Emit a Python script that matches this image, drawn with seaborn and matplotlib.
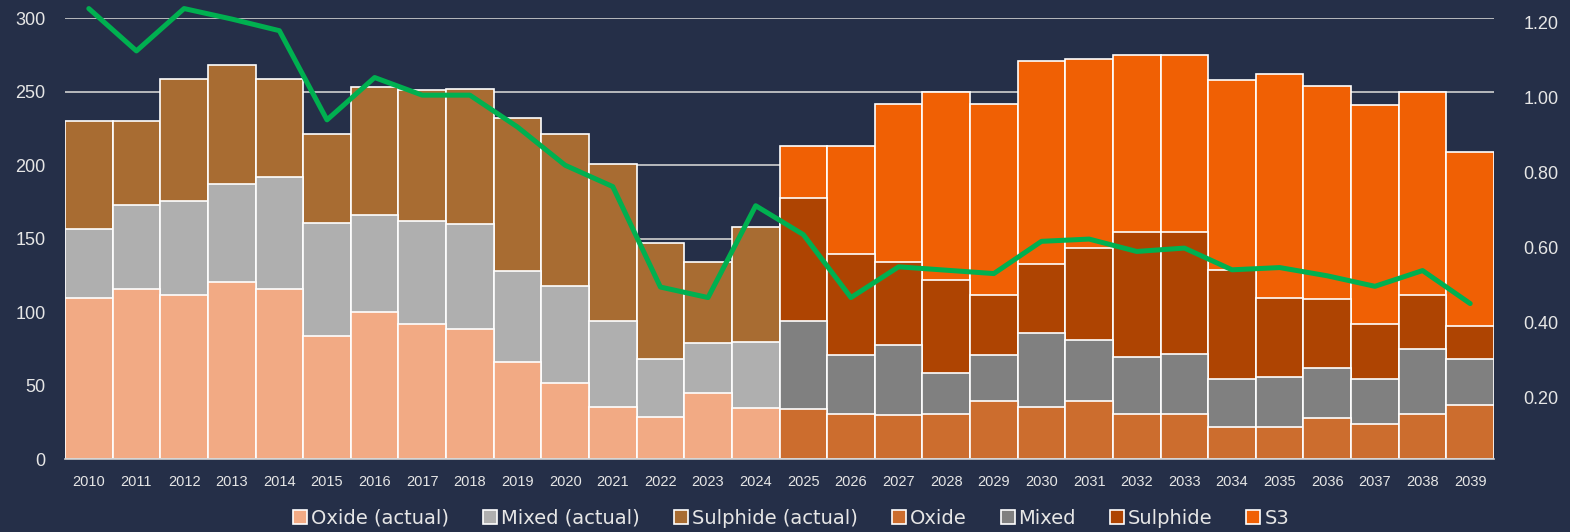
import matplotlib
matplotlib.use("Agg")
import matplotlib.pyplot as plt
from matplotlib.patches import Patch
from matplotlib.ticker import FormatStrFormatter
import numpy as np
import seaborn as sns

# categories
years = [str(y) for y in range(2010, 2040)]
actual_years = years[:15]
forecast_years = years[15:]

# actual series (2010-2024)
oxide_actual = [110, 116, 112, 121, 116, 84, 100, 92, 89, 66, 52, 36, 29, 45, 35]
mixed_actual = [47, 57, 64, 66, 76, 77, 66, 70, 71, 62, 66, 58, 39, 34, 45]
sulphide_actual = [73, 57, 83, 81, 67, 60, 87, 89, 92, 104, 103, 107, 79, 55, 78]

# forecast series (2025-2039)
oxide = [34, 31, 30, 31, 40, 36, 40, 31, 31, 22, 22, 28, 24, 31, 37]
mixed = [60, 40, 48, 28, 31, 50, 41, 39, 41, 33, 34, 34, 31, 44, 31]
sulphide = [84, 69, 56, 63, 41, 47, 63, 85, 83, 74, 54, 47, 37, 37, 23]
s3 = [35, 73, 108, 128, 130, 138, 128, 120, 120, 129, 152, 145, 149, 138, 118]

# ratio line (right axis)
ratio = [1.238, 1.125, 1.238, 1.21, 1.179, 0.941, 1.054, 1.007, 1.007, 0.922,
         0.820, 0.763, 0.495, 0.467, 0.712, 0.635, 0.467, 0.549, 0.540, 0.531,
         0.617, 0.623, 0.590, 0.599, 0.541, 0.547, 0.525, 0.497, 0.539, 0.451]

bg = "#252F48"
txt = "#E6E6E6"
grid_c = "#D0D0D0"
colors = {
    "Oxide (actual)": "#F2AA84",
    "Mixed (actual)": "#AFAFAF",
    "Sulphide (actual)": "#A86C32",
    "Oxide": "#CC6D2E",
    "Mixed": "#808080",
    "Sulphide": "#AE4402",
    "S3": "#F06004",
}
green = "#00B050"

sns.set_theme(style="dark")
plt.rcParams["font.family"] = ["Liberation Sans", "DejaVu Sans"]

fig = plt.figure(figsize=(15.7, 5.32), dpi=100, facecolor=bg)
ax = fig.add_axes([0.0414, 0.1363, 0.9102, 0.8293])
ax.set_facecolor(bg)

# stacked bars drawn as cumulative layers, tallest first
groups = [
    (actual_years, [("Sulphide (actual)", sulphide_actual), ("Mixed (actual)", mixed_actual), ("Oxide (actual)", oxide_actual)]),
    (forecast_years, [("S3", s3), ("Sulphide", sulphide), ("Mixed", mixed), ("Oxide", oxide)]),
]
for yrs, layers in groups:
    stack = np.array([vals for _, vals in layers[::-1]], dtype=float)
    cum = np.cumsum(stack, axis=0)[::-1]
    for (name, _), heights in zip(layers, cum):
        sns.barplot(x=yrs, y=heights, order=years, color=colors[name], width=1.0,
                    edgecolor="white", linewidth=1.2, saturation=1, ax=ax, zorder=2)

ax.set_xlim(-0.5, 29.5)
ax.set_ylim(0, 300)
ax.set_yticks(range(0, 301, 50))
ax.yaxis.grid(True, color=grid_c, linewidth=1.2, zorder=0)
ax.xaxis.grid(False)
ax.set_axisbelow(True)
for s in ["top", "left", "right"]:
    ax.spines[s].set_visible(False)
ax.spines["bottom"].set_color(grid_c)
ax.spines["bottom"].set_linewidth(1.2)
ax.tick_params(axis="y", length=0, pad=14, labelsize=13, labelcolor=txt)
ax.tick_params(axis="x", length=0, pad=11, labelsize=10.5, labelcolor=txt)
ax.set_xlabel("")
ax.set_ylabel("")

ax2 = ax.twinx()
sns.lineplot(x=np.arange(len(years)), y=ratio, color=green, linewidth=3.6, ax=ax2,
             clip_on=False, zorder=5)
ax2.set_xlim(-0.5, 29.5)
ax2.set_ylim(0.035, 1.212)
ax2.set_yticks([0.2, 0.4, 0.6, 0.8, 1.0, 1.2])
ax2.yaxis.set_major_formatter(FormatStrFormatter("%.2f"))
ax2.grid(False)
for s in ax2.spines.values():
    s.set_visible(False)
ax2.tick_params(axis="y", length=0, pad=21, labelsize=13, labelcolor=txt)
ax2.set_ylabel("")

handles = [Patch(facecolor=c, edgecolor="white", linewidth=1.2, label=n) for n, c in colors.items()]
fig.legend(handles=handles, loc="center", bbox_to_anchor=(0.504, 0.026), ncol=7,
           frameon=False, labelcolor=txt, handlelength=0.72,
           handleheight=0.72, handletextpad=0.2, columnspacing=1.75,
           prop={"family": ["DejaVu Sans"], "size": 14})

fig.savefig("out.png", dpi=100, facecolor=bg)
